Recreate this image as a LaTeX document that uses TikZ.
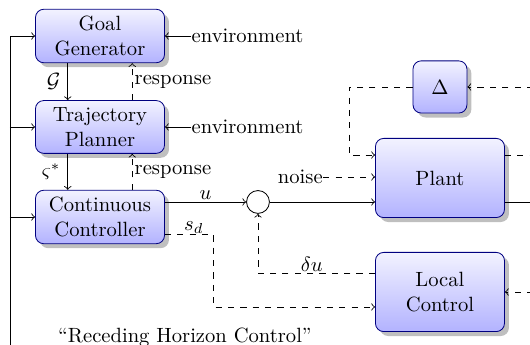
\documentclass[tikz,border=0pt]{standalone}
\usepackage{amsmath}
\usepackage{tikz}
\usetikzlibrary{shapes,arrows,positioning,shadows}
\tikzstyle{block} = [rectangle, rounded corners, draw=blue!50!black, top color=blue!5, bottom color=blue!30, drop shadow, minimum width=2.2cm, minimum height=0.9cm, align=center]
\tikzstyle{sumnode} = [circle, draw, fill=white, minimum size=0.39cm, inner sep=0pt]
\tikzstyle{line} = [draw, ->]
\tikzstyle{dline} = [draw, ->, dashed]

\begin{document}
\begin{tikzpicture}
			\clip (0,-5.882) rectangle (9.037,0);
			\node [block] (goal) at (1.705,-0.614) {Goal\\Generator};
			\node [block] (traj) at (1.705,-2.165) {Trajectory\\Planner};
			\node [block] (cont) at (1.705,-3.700) {Continuous\\Controller};
			\node [block, minimum width=0.92cm, minimum height=0.89cm] (delta) at (7.502,-1.483) {$\Delta$};
			\node [block, minimum height=1.35cm] (plant) at (7.502,-3.035) {Plant};
			\node [block, minimum height=1.35cm] (local) at (7.502,-4.979) {Local\\Control};
			\node [sumnode] (sum) at (4.399,-3.444) {};
			
			\node [right=0.45cm of goal, inner sep=0pt] (env1) {environment};
			\node [right=0.45cm of traj, inner sep=0pt] (env2) {environment};
			\node [inner sep=0pt, anchor=east] (noise) at (5.51,-3.018) {noise};
			\node (rhc) at (3.154,-5.746) {``Receding Horizon Control''};
			
			\coordinate (bus) at (0.17,-6.2);
			\coordinate (dcorner) at (5.95,-2.643);
			\coordinate (sd) at (3.632,-5.234);
			\coordinate (din) at (9.3,-1.483);
			\coordinate (lin) at (9.3,-4.979);
			\coordinate (pout1) at (9.3,-2.643);
			\coordinate (pout2) at (9.3,-3.444);
			
			% left bus
			\path [line] (bus) |- (goal.west);
			\path [line] (bus |- traj.west) -- (traj.west);
			\path [line] (bus |- cont.west) -- (cont.west);
			
			\path [line] (env1) -- (goal);
			\path [line] (env2) -- (traj);
			\path [line] ([xshift=-0.55cm]goal.south) -- ([xshift=-0.55cm]traj.north) node [midway, left] {$\mathcal{G}$};
			\path [dline] ([xshift=0.55cm]traj.north) -- ([xshift=0.55cm]goal.south) node [midway, right, inner sep=1pt] {response};
			\path [line] ([xshift=-0.55cm]traj.south) -- ([xshift=-0.55cm]cont.north) node [midway, left] {$\varsigma^*$};
			\path [dline] ([xshift=0.55cm]cont.north) -- ([xshift=0.55cm]traj.south) node [midway, right, inner sep=1pt] {response};
			
			\path [line] (cont.east |- sum) -- (sum) node [midway, above, inner sep=1pt] {$u$};
			\path [line] (sum) -- (sum -| plant.west);
			\path [dline] (noise) -- (noise -| plant.west);
			\path [dline] (delta.west) -| (dcorner) -- (dcorner -| plant.west);
			\path [dline] (din) -- (delta.east);
			\draw [dashed] (plant.east |- pout1) -- (pout1);
			\draw (plant.east |- pout2) -- (pout2);
			\path [dline] (lin) -- (local.east);
			\path [dline] ([yshift=0.32cm]local.west) -| (sum.south) node [pos=0.27, above, inner sep=0.5pt] {$\delta u$};
			\path [dline] ([yshift=-0.29cm]cont.east) -| (sd) node [pos=0.3, above, inner sep=0pt] {$s_d$} -- (sd -| local.west);
		\end{tikzpicture}
\end{document}
